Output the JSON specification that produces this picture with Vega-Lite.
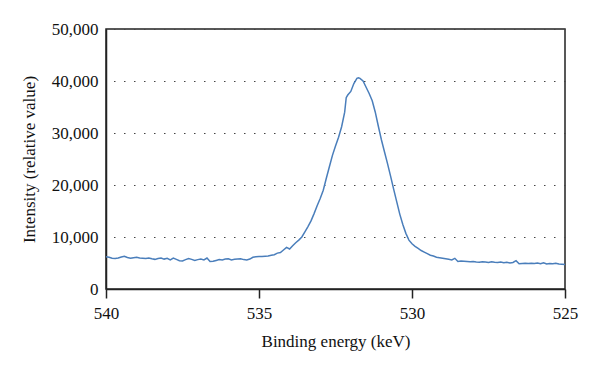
{
  "$schema": "https://vega.github.io/schema/vega-lite/v6.json",
  "autosize": "none",
  "width": 459,
  "height": 260,
  "padding": {"left": 106, "top": 29, "right": 35, "bottom": 86},
  "background": "white",
  "config": {
    "view": {"stroke": "#222222", "strokeWidth": 1.5},
    "font": "Liberation Serif, Times New Roman, DejaVu Serif, serif"
  },
  "data": {
    "values": [
      {"e": 540.0, "i": 6200}, {"e": 539.9, "i": 6100}, {"e": 539.8, "i": 5900}, {"e": 539.7, "i": 5850},
      {"e": 539.6, "i": 5950}, {"e": 539.5, "i": 6150}, {"e": 539.4, "i": 6300}, {"e": 539.3, "i": 6050},
      {"e": 539.2, "i": 5900}, {"e": 539.1, "i": 6000}, {"e": 539.0, "i": 6100}, {"e": 538.9, "i": 5950},
      {"e": 538.8, "i": 5900}, {"e": 538.7, "i": 5850}, {"e": 538.6, "i": 5950}, {"e": 538.5, "i": 5800},
      {"e": 538.4, "i": 5700}, {"e": 538.3, "i": 5850}, {"e": 538.2, "i": 5950}, {"e": 538.1, "i": 5750},
      {"e": 538.0, "i": 5900}, {"e": 537.9, "i": 5600}, {"e": 537.8, "i": 5950}, {"e": 537.7, "i": 5700},
      {"e": 537.6, "i": 5450}, {"e": 537.5, "i": 5400}, {"e": 537.4, "i": 5650}, {"e": 537.3, "i": 5850},
      {"e": 537.2, "i": 5700}, {"e": 537.1, "i": 5500}, {"e": 537.0, "i": 5650}, {"e": 536.9, "i": 5750},
      {"e": 536.8, "i": 5600}, {"e": 536.7, "i": 5950}, {"e": 536.6, "i": 5300}, {"e": 536.5, "i": 5350},
      {"e": 536.4, "i": 5500}, {"e": 536.3, "i": 5650}, {"e": 536.2, "i": 5600}, {"e": 536.1, "i": 5750},
      {"e": 536.0, "i": 5800}, {"e": 535.9, "i": 5600}, {"e": 535.8, "i": 5700}, {"e": 535.7, "i": 5750},
      {"e": 535.6, "i": 5800}, {"e": 535.5, "i": 5650}, {"e": 535.4, "i": 5600}, {"e": 535.3, "i": 5750},
      {"e": 535.2, "i": 6100}, {"e": 535.1, "i": 6200}, {"e": 535.0, "i": 6250}, {"e": 534.9, "i": 6250},
      {"e": 534.8, "i": 6300}, {"e": 534.7, "i": 6350}, {"e": 534.6, "i": 6500}, {"e": 534.5, "i": 6600},
      {"e": 534.4, "i": 6900}, {"e": 534.3, "i": 7000}, {"e": 534.2, "i": 7500}, {"e": 534.1, "i": 8000},
      {"e": 534.0, "i": 7700}, {"e": 533.9, "i": 8300}, {"e": 533.8, "i": 8900}, {"e": 533.7, "i": 9400},
      {"e": 533.6, "i": 10000}, {"e": 533.5, "i": 11000}, {"e": 533.4, "i": 12000}, {"e": 533.3, "i": 13100},
      {"e": 533.2, "i": 14500}, {"e": 533.1, "i": 16000}, {"e": 533.0, "i": 17400}, {"e": 532.9, "i": 19000},
      {"e": 532.8, "i": 21300}, {"e": 532.7, "i": 23500}, {"e": 532.6, "i": 25700}, {"e": 532.5, "i": 27500},
      {"e": 532.4, "i": 29200}, {"e": 532.3, "i": 31200}, {"e": 532.2, "i": 34000}, {"e": 532.15, "i": 36800},
      {"e": 532.1, "i": 37300}, {"e": 532.0, "i": 38000}, {"e": 531.9, "i": 39500}, {"e": 531.8, "i": 40500},
      {"e": 531.75, "i": 40600}, {"e": 531.7, "i": 40500}, {"e": 531.6, "i": 40000}, {"e": 531.5, "i": 38800},
      {"e": 531.4, "i": 37600}, {"e": 531.3, "i": 36200}, {"e": 531.2, "i": 34000}, {"e": 531.1, "i": 31300},
      {"e": 531.0, "i": 28700}, {"e": 530.9, "i": 26400}, {"e": 530.8, "i": 24100}, {"e": 530.7, "i": 21700},
      {"e": 530.6, "i": 19200}, {"e": 530.5, "i": 16800}, {"e": 530.4, "i": 14400}, {"e": 530.3, "i": 12400},
      {"e": 530.2, "i": 10700}, {"e": 530.1, "i": 9400}, {"e": 530.0, "i": 8700}, {"e": 529.9, "i": 8200},
      {"e": 529.8, "i": 7800}, {"e": 529.7, "i": 7400}, {"e": 529.6, "i": 7100}, {"e": 529.5, "i": 6800},
      {"e": 529.4, "i": 6500}, {"e": 529.3, "i": 6350}, {"e": 529.2, "i": 6100}, {"e": 529.1, "i": 6000},
      {"e": 529.0, "i": 5900}, {"e": 528.9, "i": 5800}, {"e": 528.8, "i": 5700}, {"e": 528.7, "i": 5600},
      {"e": 528.6, "i": 5900}, {"e": 528.5, "i": 5300}, {"e": 528.4, "i": 5400}, {"e": 528.3, "i": 5350},
      {"e": 528.2, "i": 5300}, {"e": 528.1, "i": 5250}, {"e": 528.0, "i": 5300}, {"e": 527.9, "i": 5200},
      {"e": 527.8, "i": 5150}, {"e": 527.7, "i": 5250}, {"e": 527.6, "i": 5200}, {"e": 527.5, "i": 5100},
      {"e": 527.4, "i": 5250}, {"e": 527.3, "i": 5150}, {"e": 527.2, "i": 5100}, {"e": 527.1, "i": 5200},
      {"e": 527.0, "i": 5050}, {"e": 526.9, "i": 5150}, {"e": 526.8, "i": 5000}, {"e": 526.7, "i": 5100},
      {"e": 526.6, "i": 5450}, {"e": 526.5, "i": 4850}, {"e": 526.4, "i": 4900}, {"e": 526.3, "i": 4950},
      {"e": 526.2, "i": 4900}, {"e": 526.1, "i": 4950}, {"e": 526.0, "i": 4900}, {"e": 525.9, "i": 5000},
      {"e": 525.8, "i": 4850}, {"e": 525.7, "i": 5050}, {"e": 525.6, "i": 4800}, {"e": 525.5, "i": 4900},
      {"e": 525.4, "i": 4850}, {"e": 525.3, "i": 4950}, {"e": 525.2, "i": 4800}, {"e": 525.1, "i": 4750},
      {"e": 525.0, "i": 4700}
    ]
  },
  "mark": {"type": "line", "color": "#4a7ebb", "strokeWidth": 1.5, "interpolate": "linear"},
  "encoding": {
    "x": {
      "field": "e",
      "type": "quantitative",
      "scale": {"domain": [525, 540], "reverse": true, "nice": false, "zero": false},
      "axis": {
        "title": "Binding energy (keV)",
        "values": [540, 535, 530, 525],
        "format": "d",
        "grid": false,
        "domainColor": "#222222",
        "domainWidth": 1.5,
        "tickColor": "#222222",
        "tickWidth": 1.5,
        "tickSize": 9,
        "labelFont": "Liberation Serif, Times New Roman, DejaVu Serif, serif",
        "labelFontSize": 17,
        "labelColor": "#111111",
        "labelPadding": 7,
        "labelFlush": false,
        "titleFont": "Liberation Serif, Times New Roman, DejaVu Serif, serif",
        "titleFontSize": 17,
        "titleFontWeight": "normal",
        "titleColor": "#111111",
        "titlePadding": 12
      }
    },
    "y": {
      "field": "i",
      "type": "quantitative",
      "scale": {"domain": [0, 50000], "nice": false},
      "axis": {
        "title": "Intensity (relative value)",
        "values": [0, 10000, 20000, 30000, 40000, 50000],
        "format": ",d",
        "grid": true,
        "gridColor": "#444444",
        "gridDash": [1.5, 8.5],
        "gridWidth": 1,
        "domainColor": "#222222",
        "domainWidth": 1.5,
        "ticks": false,
        "labelFont": "Liberation Serif, Times New Roman, DejaVu Serif, serif",
        "labelFontSize": 17,
        "labelColor": "#111111",
        "labelPadding": 8,
        "labelFlush": false,
        "titleFont": "Liberation Serif, Times New Roman, DejaVu Serif, serif",
        "titleFontSize": 17,
        "titleFontWeight": "normal",
        "titleColor": "#111111",
        "titlePadding": 13
      }
    }
  }
}
